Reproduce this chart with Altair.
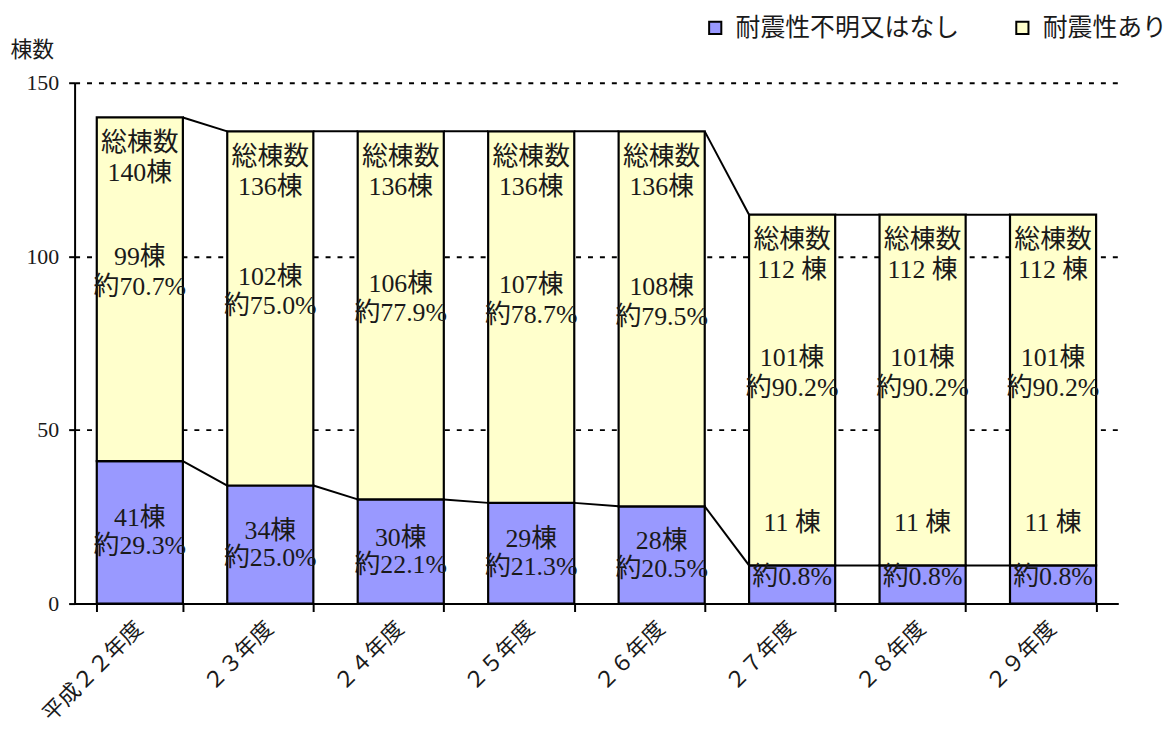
import altair as alt
import pandas as pd

years = ["平成２２年度", "２３年度", "２４年度", "２５年度", "２６年度", "２７年度", "２８年度", "２９年度"]
unknown = [41, 34, 30, 29, 28, 11, 11, 11]
seismic = [99, 102, 106, 107, 108, 101, 101, 101]
totals = [140, 136, 136, 136, 136, 112, 112, 112]
total_labels = ["140棟", "136棟", "136棟", "136棟", "136棟", "112 棟", "112 棟", "112 棟"]
seismic_labels = ["99棟", "102棟", "106棟", "107棟", "108棟", "101棟", "101棟", "101棟"]
seismic_pct = ["約70.7%", "約75.0%", "約77.9%", "約78.7%", "約79.5%", "約90.2%", "約90.2%", "約90.2%"]
unknown_labels = ["41棟", "34棟", "30棟", "29棟", "28棟", "11 棟", "11 棟", "11 棟"]
unknown_pct = ["約29.3%", "約25.0%", "約22.1%", "約21.3%", "約20.5%", "約0.8%", "約0.8%", "約0.8%"]

series = ["耐震性不明又はなし", "耐震性あり"]
colors = ["#9999FF", "#FFFFCC"]

FONT = "Liberation Serif, Noto Sans CJK JP"
TXT = "#1a1a1a"

long_rows = []
for i, y in enumerate(years):
    long_rows.append({"year": y, "series": series[0], "value": unknown[i], "ord": 0})
    long_rows.append({"year": y, "series": series[1], "value": seismic[i], "ord": 1})
long_df = pd.DataFrame(long_rows)

wide = pd.DataFrame({
    "year": years, "unknown": unknown, "total": totals,
    "total_label": total_labels, "s_label": seismic_labels, "s_pct": seismic_pct,
    "u_label": unknown_labels, "u_pct": unknown_pct,
})
wide["mid"] = (wide["unknown"] + wide["total"]) / 2
wide["umid"] = wide["unknown"] / 2

conn = pd.DataFrame({
    "year": years[:-1], "next": years[1:],
    "total": totals[:-1], "next_total": totals[1:],
    "unknown": unknown[:-1], "next_unknown": unknown[1:],
})

xscale = alt.Scale(domain=years, paddingInner=0.34, paddingOuter=0.17)
X = alt.X("year:N", sort=years, scale=xscale,
          axis=alt.Axis(title=None, labelAngle=-45, labelFont="Noto Sans CJK JP", labelFontSize=22,
                        labelColor=TXT, tickBand="extent", tickSize=8, tickColor="black", tickWidth=2,
                        domainColor="black", domainWidth=2, labelPadding=6, labelOffset=-8))
Y = alt.Y("value:Q", stack="zero",
          scale=alt.Scale(domain=[0, 150], nice=False),
          axis=alt.Axis(values=[0, 50, 100, 150], title="棟数", titleAngle=0, titleX=-65, titleY=-33,
                        titleAlign="left", titleBaseline="middle", titleFont="Noto Sans CJK JP",
                        titleFontSize=22, titleFontWeight="normal", titleColor=TXT,
                        labelFont=FONT, labelFontSize=22, labelColor=TXT, labelPadding=10,
                        tickSize=6, tickColor="black", tickWidth=2, domainColor="black", domainWidth=2,
                        grid=True, gridColor="black", gridDash=[5, 7], gridWidth=2))

bars = alt.Chart(long_df).mark_bar(stroke="black", strokeWidth=2.2).encode(
    x=X, y=Y,
    fill=alt.Fill("series:N", scale=alt.Scale(domain=series, range=colors),
                  legend=alt.Legend(title=None, orient="none", legendX=632, legendY=-68,
                                    direction="horizontal", columns=2, symbolType="square",
                                    symbolSize=150, symbolStrokeColor="black", symbolStrokeWidth=2,
                                    labelFont="Noto Sans CJK JP", labelFontSize=25, labelColor=TXT,
                                    labelLimit=0, columnPadding=50, labelOffset=8)),
    order=alt.Order("ord:Q"),
)

Xc = alt.X("year:N", sort=years, bandPosition=1)
top_conn = alt.Chart(conn).mark_rule(color="black", strokeWidth=2).encode(
    x=Xc, x2=alt.X2("next:N", bandPosition=0),
    y=alt.Y("total:Q"), y2=alt.Y2("next_total:Q"))
low_conn = alt.Chart(conn).mark_rule(color="black", strokeWidth=2).encode(
    x=Xc, x2=alt.X2("next:N", bandPosition=0),
    y=alt.Y("unknown:Q"), y2=alt.Y2("next_unknown:Q"))

Xt = alt.X("year:N", sort=years)
base = alt.Chart(wide)
tkw = dict(font=FONT, fontSize=26, color=TXT)
t_head = base.mark_text(dy=26, **tkw).encode(x=Xt, y=alt.Y("total:Q"), text=alt.value("総棟数"))
t_total = base.mark_text(dy=56, **tkw).encode(x=Xt, y=alt.Y("total:Q"), text="total_label:N")
t_s = base.mark_text(dy=-32, **tkw).encode(x=Xt, y=alt.Y("mid:Q"), text="s_label:N")
t_sp = base.mark_text(dy=-2, **tkw).encode(x=Xt, y=alt.Y("mid:Q"), text="s_pct:N")

big = base.transform_filter("datum.unknown >= 20")
small = base.transform_filter("datum.unknown < 20")
t_u = big.mark_text(dy=-14, **tkw).encode(x=Xt, y=alt.Y("umid:Q"), text="u_label:N")
t_up = big.mark_text(dy=14, **tkw).encode(x=Xt, y=alt.Y("umid:Q"), text="u_pct:N")
t_u2 = small.mark_text(dy=-43, **tkw).encode(x=Xt, y=alt.Y("unknown:Q"), text="u_label:N")
t_up2 = small.mark_text(dy=-7, **tkw).encode(x=Xt, y=alt.Y("umid:Q"), text="u_pct:N")

chart = alt.layer(bars, top_conn, low_conn, t_head, t_total, t_s, t_sp, t_u, t_up, t_u2, t_up2).properties(
    width=1050, height=524,
    autosize=alt.AutoSizeParams(type="none"),
    padding={"left": 67, "top": 73, "right": 48, "bottom": 125},
).configure_view(stroke="transparent")

chart.save("out.html", embed_options={"renderer": "svg", "actions": False})
